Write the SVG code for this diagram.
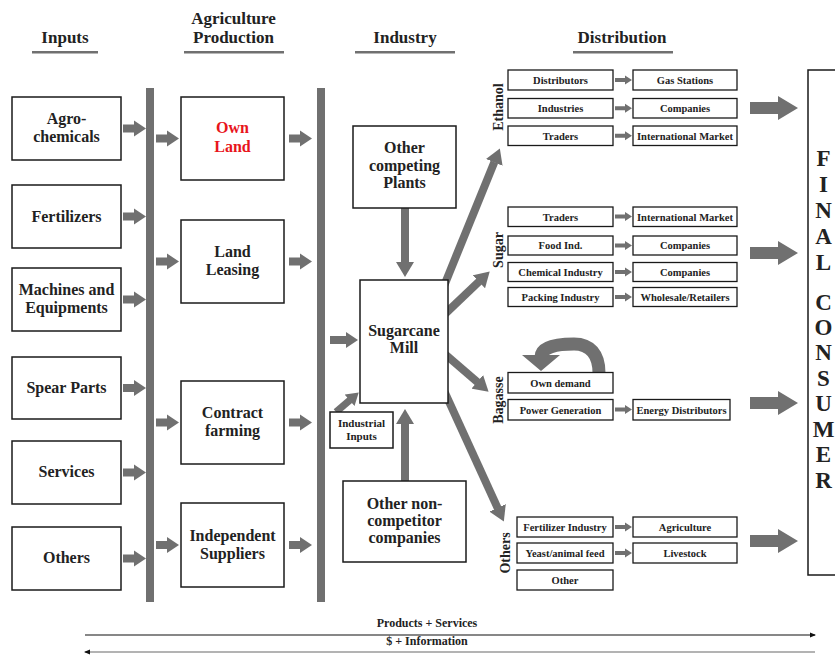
<svg xmlns="http://www.w3.org/2000/svg" xmlns:xlink="http://www.w3.org/1999/xlink" width="835" height="661" viewBox="0 0 835 661">
  <style>
    .box{fill:#fff;stroke:#1a1a1a;stroke-width:1.5}
    .dbox{fill:#fff;stroke:#1a1a1a;stroke-width:1.3}
    .t{font-family:"Liberation Serif","DejaVu Serif",serif;font-weight:bold;font-size:16px;fill:#222;text-anchor:middle}
    .hd{font-size:17px}
    .ts{font-size:10.5px}
    .tm{font-size:11px}
    .lab{font-size:14px}
    .fc{font-size:23px}
    .foot{font-size:12px}
    .g{fill:#707070}
    .conn{stroke:#707070;fill:none}
  </style>
  <defs>
    <!-- horizontal block arrows, drawn pointing right from the origin -->
    <path id="aIn" d="M0,-4 H11 V-8 L23,0 L11,8 V4 H0z"/>
    <path id="aBig" d="M0,-6 H28 V-12 L48,0 L28,12 V6 H0z"/>
    <path id="aSm" d="M0,-2 H10 V-4.5 L17,0 L10,4.5 V2 H0z"/>
    <marker id="mHd" markerUnits="userSpaceOnUse" viewBox="0 0 15 18" markerWidth="15" markerHeight="18" refX="0.5" refY="9" orient="auto">
      <path d="M0,0 L15,9 L0,18z" fill="#707070"/>
    </marker>
    <marker id="mHdS" markerUnits="userSpaceOnUse" viewBox="0 0 12 15" markerWidth="12" markerHeight="15" refX="0.5" refY="7.5" orient="auto">
      <path d="M0,0 L12,7.5 L0,15z" fill="#707070"/>
    </marker>
    <marker id="mTip" markerUnits="userSpaceOnUse" viewBox="0 0 6 6" markerWidth="6" markerHeight="6" refX="5" refY="3" orient="auto">
      <path d="M0,0.5 L6,3 L0,5.5z" fill="#111"/>
    </marker>
  </defs>

  <rect width="835" height="661" fill="#fff"/>

  <!-- column headings -->
  <g id="headings">
    <text class="t hd" x="65" y="43">Inputs</text>
    <text class="t hd" x="233.5" y="24">Agriculture</text>
    <text class="t hd" x="233.5" y="43">Production</text>
    <text class="t hd" x="405" y="43">Industry</text>
    <text class="t hd" x="622" y="43">Distribution</text>
    <rect class="g" x="32" y="51" width="66" height="2.5"/>
    <rect class="g" x="184" y="51" width="100" height="2.5"/>
    <rect class="g" x="355" y="51" width="100" height="2.5"/>
    <rect class="g" x="573" y="51" width="100" height="2.5"/>
  </g>

  <!-- collector bars -->
  <g id="bars">
    <rect class="g" x="146" y="88" width="8" height="514"/>
    <rect class="g" x="317" y="88" width="8" height="514"/>
  </g>

  <!-- connectors -->
  <g id="connectors">
    <g class="g">
      <use xlink:href="#aIn" x="123" y="128.5"/>
      <use xlink:href="#aIn" x="123" y="216.5"/>
      <use xlink:href="#aIn" x="123" y="299.5"/>
      <use xlink:href="#aIn" x="123" y="388"/>
      <use xlink:href="#aIn" x="123" y="472.5"/>
      <use xlink:href="#aIn" x="123" y="558.5"/>
      <use xlink:href="#aIn" x="156" y="138.5"/>
      <use xlink:href="#aIn" x="156" y="261.5"/>
      <use xlink:href="#aIn" x="156" y="422.5"/>
      <use xlink:href="#aIn" x="156" y="545"/>
      <use xlink:href="#aIn" x="289" y="138.5"/>
      <use xlink:href="#aIn" x="289" y="261.5"/>
      <use xlink:href="#aIn" x="289" y="422.5"/>
      <use xlink:href="#aIn" x="289" y="545"/>
      <path d="M330,336 H346 V332 L358,340 L346,348 V344 H330z"/>
      <use xlink:href="#aSm" x="615" y="80"/>
      <use xlink:href="#aSm" x="615" y="108.25"/>
      <use xlink:href="#aSm" x="615" y="135.75"/>
      <use xlink:href="#aSm" x="615" y="216.5"/>
      <use xlink:href="#aSm" x="615" y="245.5"/>
      <use xlink:href="#aSm" x="615" y="272"/>
      <use xlink:href="#aSm" x="615" y="297"/>
      <use xlink:href="#aSm" x="615" y="409.5"/>
      <use xlink:href="#aSm" x="615" y="527"/>
      <use xlink:href="#aSm" x="615" y="553"/>
      <use xlink:href="#aBig" x="750" y="108"/>
      <use xlink:href="#aBig" x="750" y="253"/>
      <use xlink:href="#aBig" x="750" y="403"/>
      <use xlink:href="#aBig" x="750" y="541"/>
      <!-- own-demand loop -->
      <path d="M522,355 L560,355 L541,371z"/>
    </g>
    <path class="conn" stroke-width="13" d="M599,373 C599,354 590,344 574,344 C557,344 541,347 541,357"/>
    <g class="conn" stroke-width="8">
      <line x1="405" y1="208" x2="405" y2="262.5" marker-end="url(#mHd)"/>
      <line x1="405" y1="481" x2="405" y2="423.5" marker-end="url(#mHd)"/>
      <line x1="443" y1="288.4" x2="494.4" y2="161.9" marker-end="url(#mHd)"/>
      <line x1="440.2" y1="318.5" x2="479.2" y2="281.4" marker-end="url(#mHd)"/>
      <line x1="439.9" y1="349.8" x2="477.6" y2="382.2" marker-end="url(#mHd)"/>
      <line x1="441.7" y1="385.7" x2="497.8" y2="508.3" marker-end="url(#mHd)"/>
    </g>
    <line class="conn" stroke-width="7" x1="336" y1="412" x2="350" y2="400" marker-end="url(#mHdS)"/>
    <!-- flow lines along the bottom -->
    <line x1="85" y1="635" x2="815" y2="635" stroke="#111" stroke-width="1.2" marker-end="url(#mTip)"/>
    <line x1="815" y1="652" x2="85" y2="652" stroke="#9a9a9a" stroke-width="1.5" marker-end="url(#mTip)"/>
  </g>

  <!-- inputs -->
  <g id="agro-chemicals"><rect class="box" x="12" y="97" width="109" height="63"/><text class="t" x="66.5" y="124">Agro-</text><text class="t" x="66.5" y="142">chemicals</text></g>
  <g id="fertilizers"><rect class="box" x="12" y="185" width="109" height="63"/><text class="t" x="66.5" y="222">Fertilizers</text></g>
  <g id="machines"><rect class="box" x="12" y="268" width="109" height="63"/><text class="t" x="66.5" y="295">Machines and</text><text class="t" x="66.5" y="313">Equipments</text></g>
  <g id="spear-parts"><rect class="box" x="12" y="357" width="109" height="62"/><text class="t" x="66.5" y="393">Spear Parts</text></g>
  <g id="services"><rect class="box" x="12" y="441" width="109" height="63"/><text class="t" x="66.5" y="477">Services</text></g>
  <g id="others-in"><rect class="box" x="12" y="527" width="109" height="63"/><text class="t" x="66.5" y="563">Others</text></g>

  <!-- agriculture production -->
  <g id="own-land"><rect class="box" x="181" y="97" width="103" height="83"/><text class="t" x="232.5" y="133" style="fill:#e8141c">Own</text><text class="t" x="232.5" y="152" style="fill:#e8141c">Land</text></g>
  <g id="land-leasing"><rect class="box" x="181" y="220" width="103" height="83"/><text class="t" x="232.5" y="257">Land</text><text class="t" x="232.5" y="275">Leasing</text></g>
  <g id="contract-farming"><rect class="box" x="181" y="381" width="103" height="83"/><text class="t" x="232.5" y="418">Contract</text><text class="t" x="232.5" y="436">farming</text></g>
  <g id="independent-suppliers"><rect class="box" x="181" y="503" width="103" height="84"/><text class="t" x="232.5" y="541">Independent</text><text class="t" x="232.5" y="559">Suppliers</text></g>

  <!-- industry -->
  <g id="competing-plants"><rect class="box" x="353" y="126" width="103" height="82"/><text class="t" x="404.5" y="153">Other</text><text class="t" x="404.5" y="171">competing</text><text class="t" x="404.5" y="188">Plants</text></g>
  <g id="sugarcane-mill"><rect class="box" x="360" y="280" width="88" height="123"/><text class="t" x="404" y="336">Sugarcane</text><text class="t" x="404" y="353">Mill</text></g>
  <g id="industrial-inputs"><rect class="box" x="330" y="412" width="63" height="36"/><text class="t tm" x="361.5" y="427">Industrial</text><text class="t tm" x="361.5" y="440">Inputs</text></g>
  <g id="non-competitors"><rect class="box" x="343" y="481" width="123" height="81"/><text class="t" x="404.5" y="509">Other non-</text><text class="t" x="404.5" y="526">competitor</text><text class="t" x="404.5" y="543">companies</text></g>

  <!-- distribution: ethanol -->
  <g id="ethanol">
    <text class="t lab" transform="translate(498,107) rotate(-90)" x="0" y="4.5">Ethanol</text>
    <rect class="dbox" x="508" y="70" width="105" height="20"/><text class="t ts" x="560.5" y="83.5">Distributors</text>
    <rect class="dbox" x="633" y="70" width="104" height="20"/><text class="t ts" x="685" y="83.5">Gas Stations</text>
    <rect class="dbox" x="508" y="98.5" width="105" height="19.5"/><text class="t ts" x="560.5" y="112">Industries</text>
    <rect class="dbox" x="633" y="98.5" width="104" height="19.5"/><text class="t ts" x="685" y="112">Companies</text>
    <rect class="dbox" x="508" y="126" width="105" height="19.5"/><text class="t ts" x="560.5" y="139.5">Traders</text>
    <rect class="dbox" x="633" y="126" width="104" height="19.5"/><text class="t ts" x="685" y="139.5">International Market</text>
  </g>

  <!-- distribution: sugar -->
  <g id="sugar">
    <text class="t lab" transform="translate(498,250) rotate(-90)" x="0" y="4.5">Sugar</text>
    <rect class="dbox" x="508" y="207" width="105" height="19.5"/><text class="t ts" x="560.5" y="220.5">Traders</text>
    <rect class="dbox" x="633" y="207" width="104" height="19.5"/><text class="t ts" x="685" y="220.5">International Market</text>
    <rect class="dbox" x="508" y="236" width="105" height="19"/><text class="t ts" x="560.5" y="249">Food Ind.</text>
    <rect class="dbox" x="633" y="236" width="104" height="19"/><text class="t ts" x="685" y="249">Companies</text>
    <rect class="dbox" x="508" y="262.5" width="105" height="19"/><text class="t ts" x="560.5" y="275.5">Chemical Industry</text>
    <rect class="dbox" x="633" y="262.5" width="104" height="19"/><text class="t ts" x="685" y="275.5">Companies</text>
    <rect class="dbox" x="508" y="287.5" width="105" height="19"/><text class="t ts" x="560.5" y="300.5">Packing Industry</text>
    <rect class="dbox" x="633" y="287.5" width="104" height="19"/><text class="t ts" x="685" y="300.5">Wholesale/Retailers</text>
  </g>

  <!-- distribution: bagasse -->
  <g id="bagasse">
    <text class="t lab" transform="translate(498,400) rotate(-90)" x="0" y="4.5">Bagasse</text>
    <rect class="dbox" x="508" y="372.5" width="105" height="20.5"/><text class="t ts" x="560.5" y="386.5">Own demand</text>
    <rect class="dbox" x="508" y="399.5" width="105" height="20.5"/><text class="t ts" x="560.5" y="413.5">Power Generation</text>
    <rect class="dbox" x="633" y="399.5" width="97" height="20.5"/><text class="t ts" x="681.5" y="413.5">Energy Distributors</text>
  </g>

  <!-- distribution: others -->
  <g id="others">
    <text class="t lab" transform="translate(505,553) rotate(-90)" x="0" y="4.5">Others</text>
    <rect class="dbox" x="517" y="517" width="96" height="20"/><text class="t ts" x="565" y="530.5">Fertilizer Industry</text>
    <rect class="dbox" x="633" y="517" width="104" height="20"/><text class="t ts" x="685" y="530.5">Agriculture</text>
    <rect class="dbox" x="517" y="543" width="96" height="20"/><text class="t ts" x="565" y="556.5">Yeast/animal feed</text>
    <rect class="dbox" x="633" y="543" width="104" height="20"/><text class="t ts" x="685" y="556.5">Livestock</text>
    <rect class="dbox" x="517" y="570" width="96" height="20"/><text class="t ts" x="565" y="583.5">Other</text>
  </g>

  <!-- final consumer -->
  <g id="final-consumer">
    <rect class="box" x="808" y="70" width="40" height="505"/>
    <g class="t fc">
      <text x="823.5" y="165.5">F</text>
      <text x="823.5" y="191.5">I</text>
      <text x="823.5" y="217.5">N</text>
      <text x="823.5" y="243.5">A</text>
      <text x="823.5" y="269.5">L</text>
      <text x="823.5" y="309.5">C</text>
      <text x="823.5" y="334.5">O</text>
      <text x="823.5" y="360">N</text>
      <text x="823.5" y="385.5">S</text>
      <text x="823.5" y="410.5">U</text>
      <text x="823.5" y="436.5">M</text>
      <text x="823.5" y="461.5">E</text>
      <text x="823.5" y="487.5">R</text>
    </g>
  </g>

  <!-- flow labels -->
  <g id="flow-labels">
    <text class="t foot" x="427" y="627">Products + Services</text>
    <text class="t foot" x="427" y="645">$ + Information</text>
  </g>
</svg>
